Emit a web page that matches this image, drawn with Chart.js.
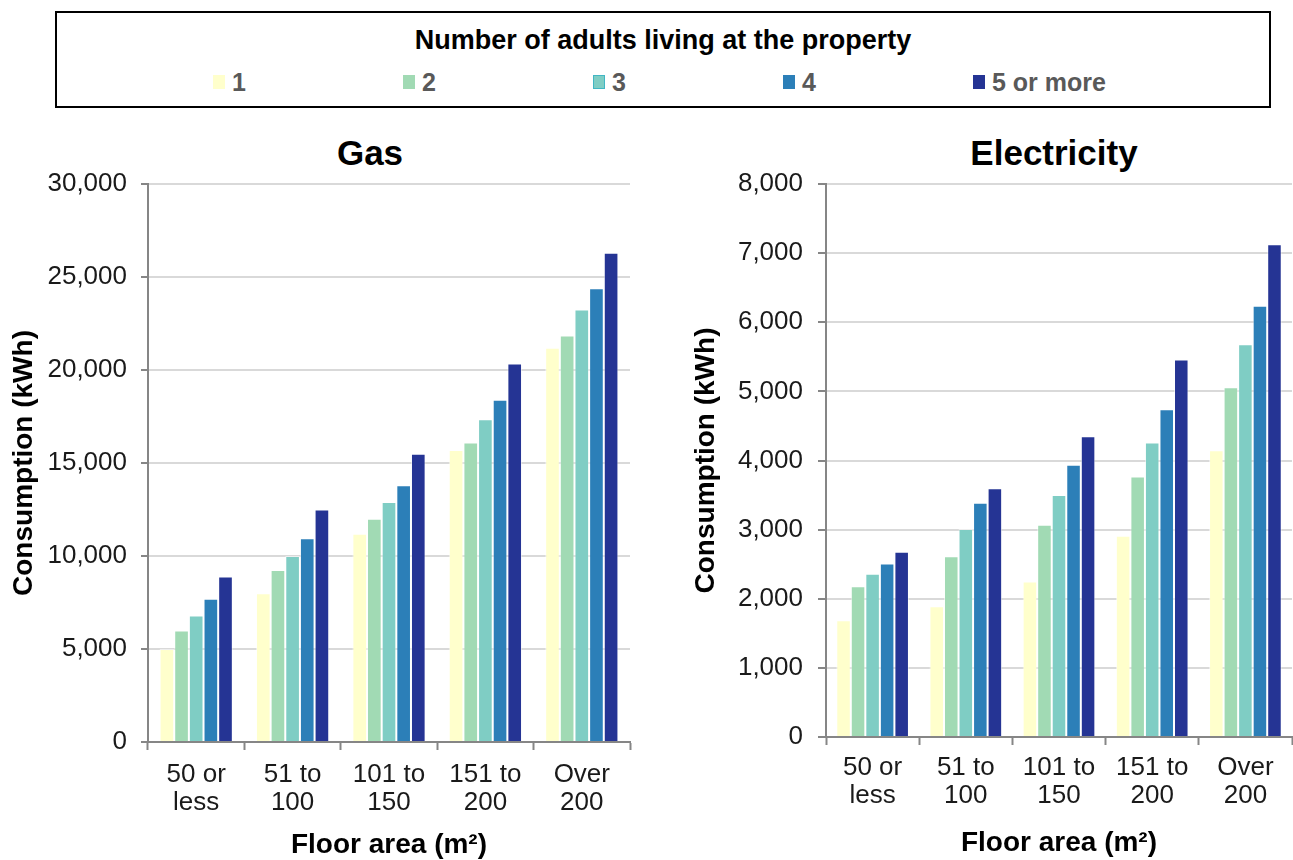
<!DOCTYPE html>
<html>
<head>
<meta charset="utf-8">
<script src="https://cdn.jsdelivr.net/npm/chart.js@4/dist/chart.umd.min.js"></script>
<style>
  html, body { margin: 0; padding: 0; background: #fff; }
  body { position: relative; width: 1293px; height: 860px; overflow: hidden;
         font-family: "Liberation Sans", Arial, sans-serif; }
  #legendBox { position: absolute; left: 55px; top: 11px; width: 1216px; height: 97px;
               box-sizing: border-box; border: 2px solid #000; }
  #legendTitle { position: absolute; left: 0; top: 27px; width: 1326px; text-align: center;
                 font-weight: bold; font-size: 27px; line-height: 27px; color: #000; }
  .legItem { position: absolute; top: 70px; height: 25px; white-space: nowrap; }
  .legSwatch { position: absolute; left: 0; top: 5px; width: 12px; height: 14px; box-sizing: border-box; }
  .legText { position: absolute; left: 19px; top: 0; font-weight: bold; font-size: 25px;
             line-height: 25px; color: #595959; }
  .chartTitle { position: absolute; width: 400px; text-align: center; font-weight: bold;
                font-size: 35px; line-height: 35px; color: #000; top: 135px; }
  canvas { position: absolute; }
</style>
</head>
<body>
<div id="legendBox"></div>
<div id="legendTitle">Number of adults living at the property</div>
<div id="legendItems"></div>
<div class="chartTitle" style="left:170px">Gas</div>
<div class="chartTitle" style="left:854px">Electricity</div>
<canvas id="gasChart" width="650" height="740" style="left:0;top:120px"></canvas>
<canvas id="elecChart" width="613" height="740" style="left:680px;top:120px"></canvas>
<script>
// Floor-area bands along the x axis
const floorAreas = [['50 or', 'less'], ['51 to', '100'], ['101 to', '150'], ['151 to', '200'], ['Over', '200']];
// Household size series
const adultGroups = ['1', '2', '3', '4', '5 or more'];
const seriesColors = ['#ffffcc', '#a1dab4', '#7fcdc4', '#2c7fb8', '#253494'];
const swatchEdges = ['#ffffcc', '#a1dab4', '#41b6c4', '#2c7fb8', '#253494'];

// Gas consumption (kWh) by number of adults
const gasAdults1 = [5000, 8000, 11200, 15700, 21200];
const gasAdults2 = [6000, 9250, 12000, 16100, 21850];
const gasAdults3 = [6800, 10000, 12900, 17350, 23250];
const gasAdults4 = [7700, 10950, 13800, 18400, 24400];
const gasAdults5 = [8900, 12500, 15500, 20350, 26300];

// Electricity consumption (kWh) by number of adults
const elecAdults1 = [1690, 1890, 2250, 2910, 4150];
const elecAdults2 = [2180, 2615, 3070, 3770, 5060];
const elecAdults3 = [2360, 3010, 3500, 4260, 5680];
const elecAdults4 = [2510, 3390, 3940, 4740, 6240];
const elecAdults5 = [2680, 3600, 4350, 5460, 7130];

const gasSeries = [gasAdults1, gasAdults2, gasAdults3, gasAdults4, gasAdults5];
const elecSeries = [elecAdults1, elecAdults2, elecAdults3, elecAdults4, elecAdults5];

// Shared legend above both panels
const legendItems = document.getElementById('legendItems');
adultGroups.forEach((name, i) => {
  const item = document.createElement('div');
  item.className = 'legItem';
  item.style.left = (213 + i * 190) + 'px';
  const sw = document.createElement('div');
  sw.className = 'legSwatch';
  sw.style.background = seriesColors[i];
  sw.style.border = '1px solid ' + swatchEdges[i];
  const tx = document.createElement('div');
  tx.className = 'legText';
  tx.textContent = name;
  item.appendChild(sw);
  item.appendChild(tx);
  legendItems.appendChild(item);
});

const FONT = '"Liberation Sans", Arial, sans-serif';
const AXIS_GREY = '#868686';

function buildChart(canvasId, series, yMax, yStep, yWidth, xHeight, opts) {
  return new Chart(document.getElementById(canvasId), {
    type: 'bar',
    data: {
      labels: floorAreas,
      datasets: series.map((values, i) => ({
        label: adultGroups[i],
        data: values,
        backgroundColor: seriesColors[i],
        borderColor: 'rgba(255,255,255,0.55)',
        borderWidth: 1,
        categoryPercentage: opts.catPct,
        barPercentage: 1.0
      }))
    },
    options: {
      responsive: false,
      animation: false,
      locale: 'en-US',
      layout: { padding: { top: 64, right: opts.padRight, left: 0, bottom: 0 } },
      plugins: { legend: { display: false }, title: { display: false }, tooltip: { enabled: false } },
      scales: {
        x: {
          offset: true,
          grid: { offset: true, drawOnChartArea: false, drawTicks: true, tickLength: 8,
                  tickColor: AXIS_GREY, tickWidth: 2 },
          border: { display: true, color: AXIS_GREY, width: 2 },
          ticks: { color: '#1a1a1a', padding: opts.xPad, maxRotation: 0, autoSkip: false,
                   font: { family: FONT, size: 26, lineHeight: 28 / 26 } },
          title: { display: true, text: 'Floor area (m²)', color: '#000',
                   font: { family: FONT, size: 28, weight: 'bold', lineHeight: 1.0 },
                   padding: { top: 0, bottom: opts.xTitlePad } },
          afterFit: (scale) => { scale.height = xHeight; }
        },
        y: {
          min: 0,
          max: yMax,
          ticks: { stepSize: yStep, color: '#1a1a1a', padding: opts.yPad,
                   font: { family: FONT, size: 26 } },
          grid: { color: '#d9d9d9', lineWidth: 2, tickLength: opts.yTick, tickColor: AXIS_GREY, tickWidth: 2 },
          border: { display: true, color: AXIS_GREY, width: 2 },
          title: { display: true, text: 'Consumption (kWh)', color: '#000',
                   font: { family: FONT, size: 28, weight: 'bold', lineHeight: 1.2 },
                   padding: { top: opts.yTitlePad, bottom: 0 } },
          afterFit: (scale) => { scale.width = yWidth; }
        }
      }
    }
  });
}

buildChart('gasChart', gasSeries, 30000, 5000, 148, 118,
  { catPct: 0.76, padRight: 20, xPad: 11, xTitlePad: 1, yPad: 14, yTick: 7, yTitlePad: 7 });
buildChart('elecChart', elecSeries, 8000, 1000, 146, 123,
  { catPct: 0.78, padRight: 1, xPad: 9, xTitlePad: 3, yPad: 15, yTick: 8, yTitlePad: 9 });
</script>
</body>
</html>
